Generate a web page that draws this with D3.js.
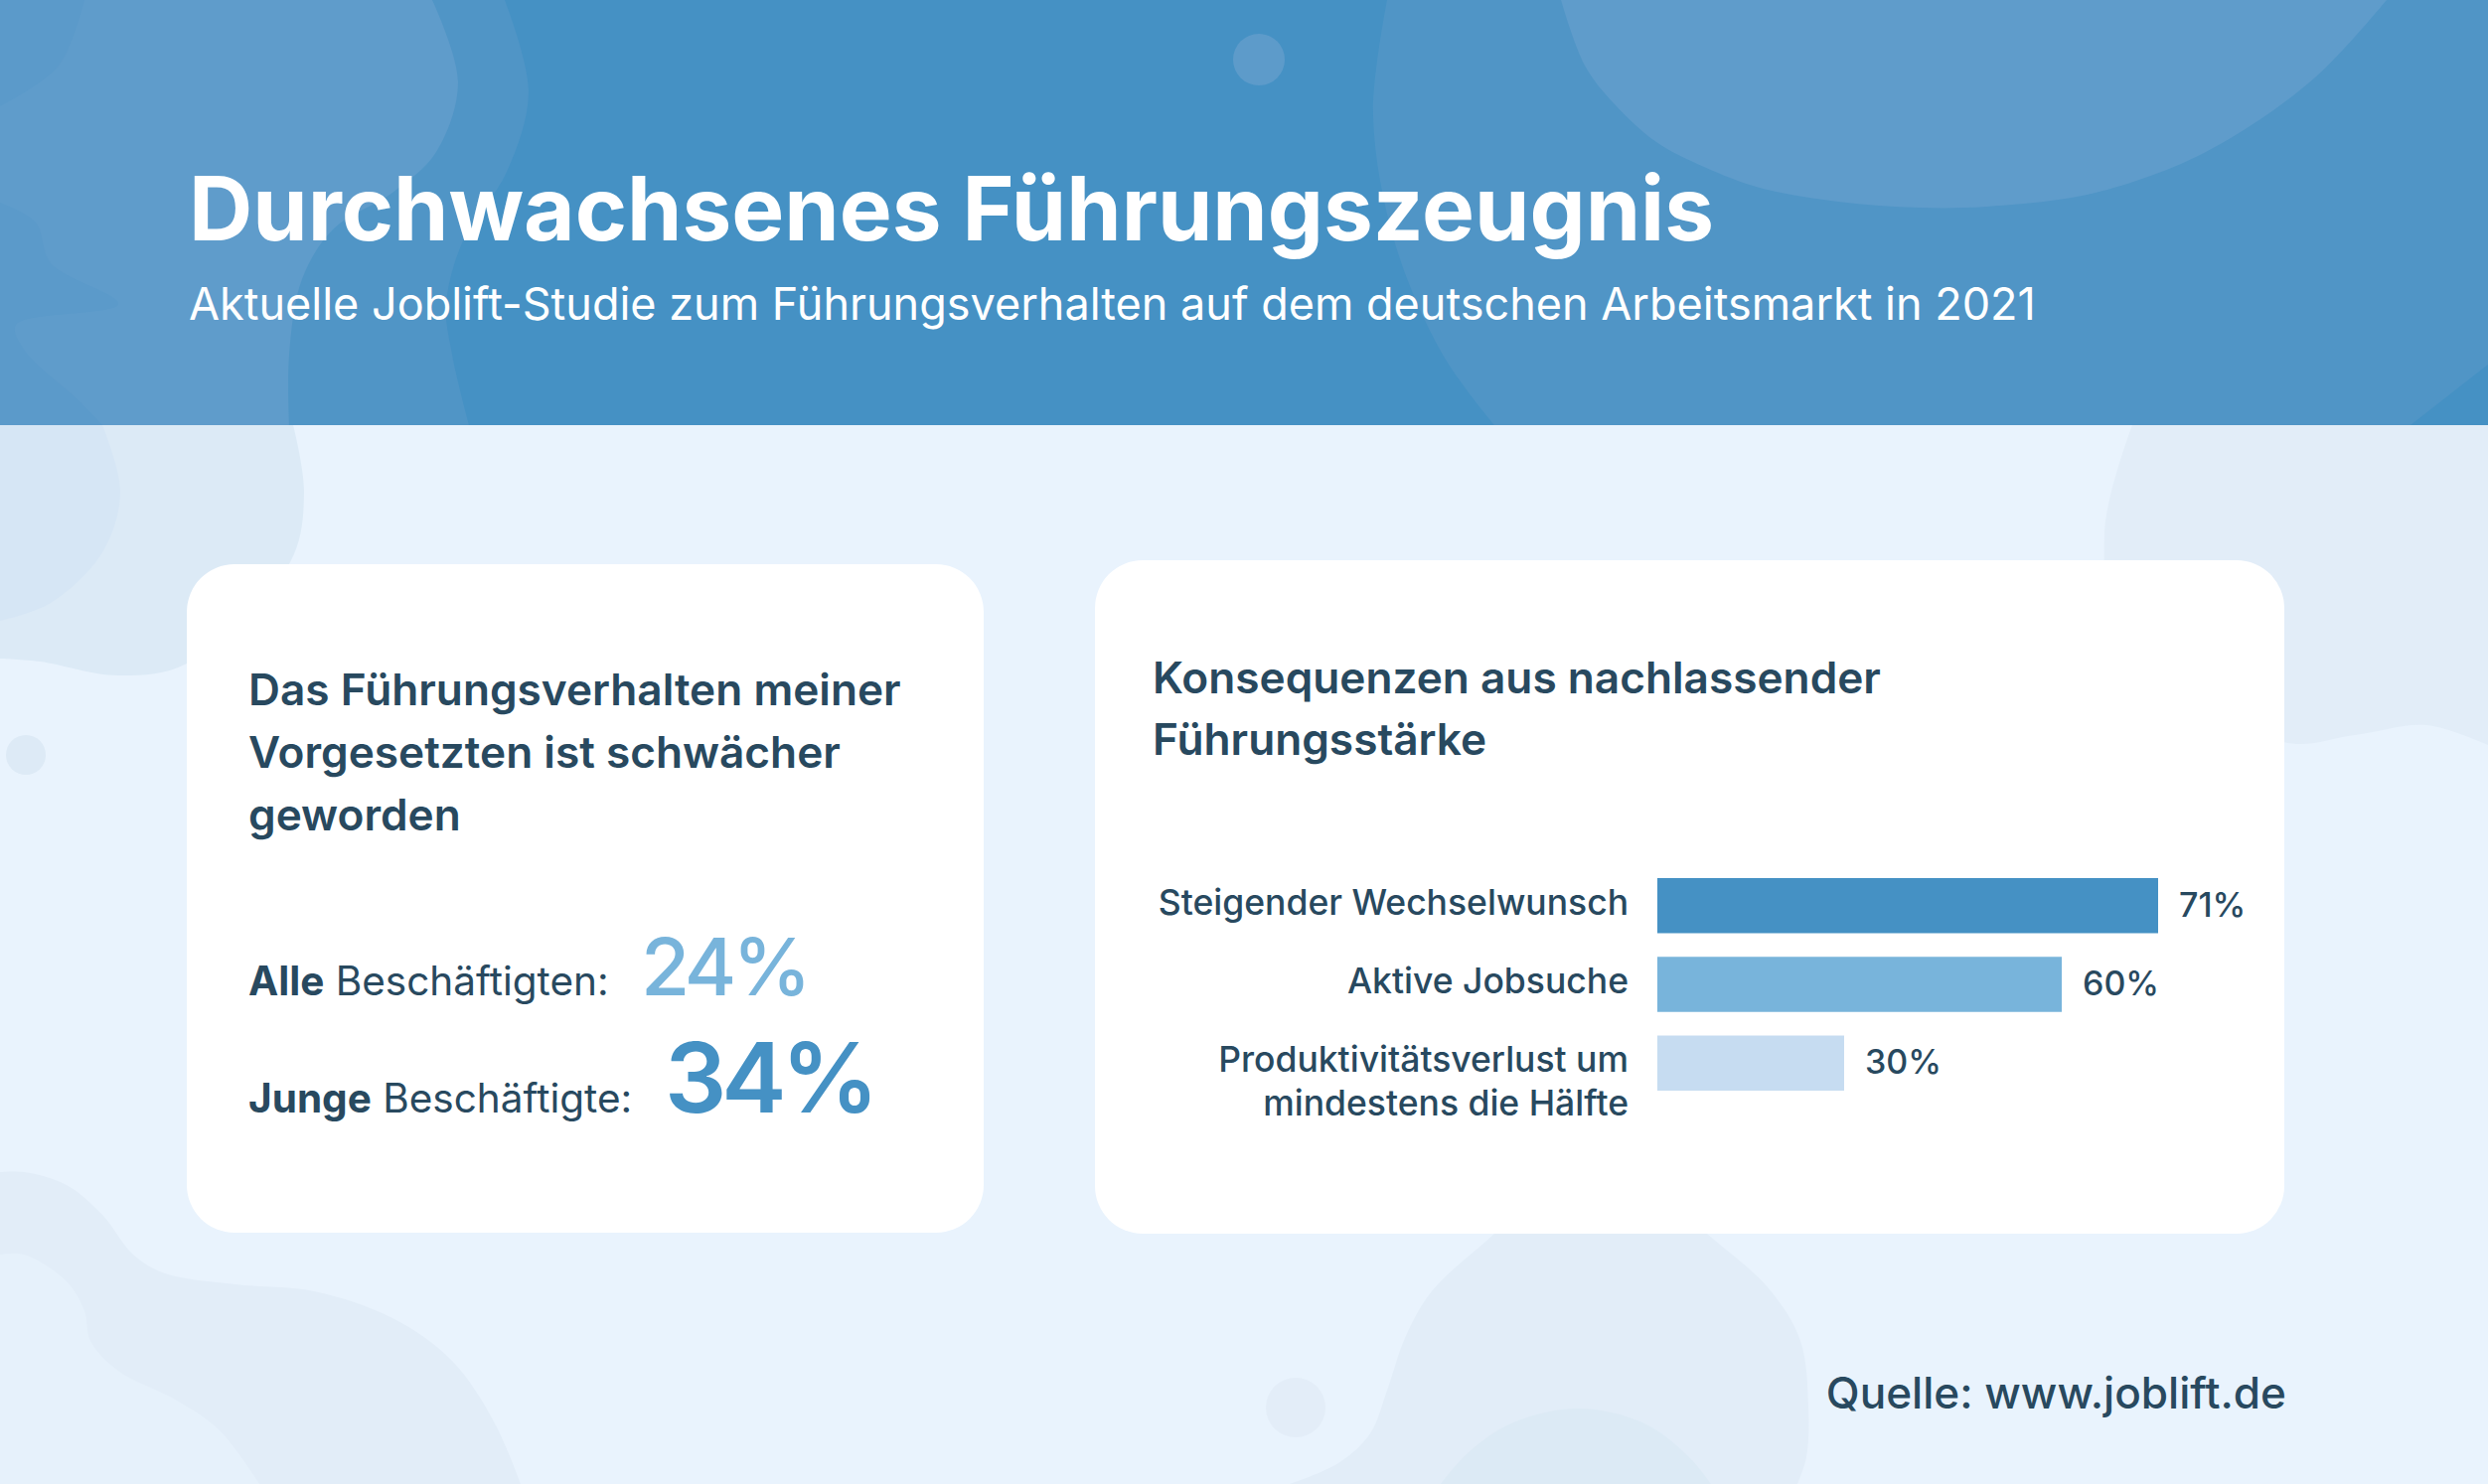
<!DOCTYPE html>
<html lang="de">
<head>
<meta charset="utf-8">
<title>Durchwachsenes Führungszeugnis</title>
<script src="https://cdn.jsdelivr.net/npm/d3@7"></script>
<style>
    html, body { margin: 0; padding: 0; background: #e9f3fd; }
    svg { display: block; }
    text { font-family: Inter, "Noto Sans", sans-serif; }
</style>
</head>
<body>
<div id="chart"></div>
<script>
// Chart data
const barCategories = ["Steigender Wechselwunsch", "Aktive Jobsuche", "Produktivitätsverlust um mindestens die Hälfte"];
const barLabelLines = [["Steigender Wechselwunsch"], ["Aktive Jobsuche"], ["Produktivitätsverlust um", "mindestens die Hälfte"]];
const barValues = [71, 60, 30];
const barColors = ["#4591c4", "#78b4db", "#c6dcf1"];

const statBold = ["Alle", "Junge"];
const statRest = [" Beschäftigten:", " Beschäftigte:"];
const statValues = [24, 34];

const width = 2504;
const height = 1494;
const headerHeight = 428;
const dark = "#28495f";

const svg = d3.select("#chart").append("svg")
    .attr("width", width)
    .attr("height", height);

svg.append("rect").attr("width", width).attr("height", height).attr("fill", "#e9f3fd");

svg.append("clipPath").attr("id", "header-clip")
    .append("rect").attr("width", width).attr("height", headerHeight);

// Background blobs, purely decorative: a smooth edge plus straight closing corners
const edge = d3.line().curve(d3.curveCatmullRom.alpha(0.5));
const blobPath = b => edge(b.edge) + b.close.map(p => `L${p[0]},${p[1]}`).join("") + "Z";

const bodyBlobs = [
    { fill: "#dceaf6", edge: [[295, 428], [306, 495], [292, 566], [188, 668], [119, 680], [40, 666], [0, 663]], close: [[0, 428]] },
    { fill: "#d6e6f5", edge: [[103, 428], [121, 495], [103, 556], [51, 607], [0, 625]], close: [[0, 428]] },
    { fill: "#e2edf8", edge: [[2146, 428], [2118, 536], [2140, 650], [2298, 747], [2370, 740], [2442, 730], [2504, 750]], close: [[2504, 428]] },
    { fill: "#e2edf8", edge: [[0, 1180], [24, 1180], [67, 1193], [103, 1223], [134, 1263], [166, 1282], [237, 1293], [316, 1300], [395, 1327], [455, 1370], [498, 1433], [524, 1494]], close: [[0, 1494]] },
    { fill: "#e6f1fb", edge: [[0, 1263], [24, 1263], [67, 1290], [85, 1320], [91, 1350], [119, 1380], [178, 1410], [221, 1440], [261, 1494]], close: [[0, 1494]] },
    { fill: "#e2edf8", edge: [[1298, 1494], [1347, 1473], [1379, 1443], [1396, 1400], [1414, 1347], [1441, 1300], [1504, 1242], [1560, 1190], [1660, 1190], [1718, 1242], [1780, 1297], [1812, 1350], [1820, 1417], [1818, 1467], [1809, 1494]], close: [] },
    { fill: "#dceaf5", edge: [[1450, 1494], [1477, 1463], [1521, 1433], [1588, 1418], [1655, 1433], [1700, 1467], [1722, 1494]], close: [] }
];
const headerBlobs = [
    { fill: "#4591c4", edge: [[0, 0], [width, 0]], close: [[width, headerHeight], [0, headerHeight]] },
    { fill: "#5095c6", edge: [[508, 0], [532, 92], [510, 173], [467, 240], [449, 306], [455, 357], [472, 428]], close: [[0, 428], [0, 0]] },
    { fill: "#5f9ccb", edge: [[435, 0], [461, 82], [439, 153], [395, 194], [336, 230], [304, 281], [291, 357], [291, 428]], close: [[0, 428], [0, 0]] },
    { fill: "#5b9aca", edge: [[85, 0], [59, 66], [0, 107]], close: [[0, 0]] },
    { fill: "#5b9aca", edge: [[0, 204], [36, 224], [51, 265], [119, 306], [16, 327], [24, 352], [79, 403], [103, 428]], close: [[0, 428]] },
    { fill: "#5095c6", edge: [[1396, 0], [1382, 117], [1404, 245], [1452, 357], [1504, 428]], close: [[2426, 428], [2504, 367], [2504, 0]] },
    { fill: "#5f9ccb", edge: [[1571, 0], [1595, 66], [1625, 105], [1667, 143], [1715, 168], [1771, 189], [1850, 203], [1931, 209], [2000, 208], [2090, 198], [2150, 182], [2210, 158], [2275, 120], [2330, 78], [2370, 37], [2402, 0]], close: [] }
];
const dots = [
    { cx: 26, cy: 760, r: 20, fill: "#ddeaf6" },
    { cx: 1304, cy: 1417, r: 30, fill: "#e3edf8" },
    { cx: 1267, cy: 60, r: 26, fill: "#5d9bca" }
];

svg.append("g").selectAll("path").data(bodyBlobs).join("path")
    .attr("d", blobPath)
    .attr("fill", d => d.fill);

svg.append("g").attr("clip-path", "url(#header-clip)")
    .selectAll("path").data(headerBlobs).join("path")
    .attr("d", blobPath)
    .attr("fill", d => d.fill);

svg.append("g").selectAll("circle").data(dots).join("circle")
    .attr("cx", d => d.cx)
    .attr("cy", d => d.cy)
    .attr("r", d => d.r)
    .attr("fill", d => d.fill);

// Header
svg.append("text").attr("x", 190).attr("y", 242)
    .attr("font-size", 89).attr("font-weight", 700).attr("fill", "#fff")
    .text("Durchwachsenes Führungszeugnis");
svg.append("text").attr("x", 190).attr("y", 322)
    .attr("font-size", 45).attr("font-weight", 400).attr("fill", "#fff")
    .text("Aktuelle Joblift-Studie zum Führungsverhalten auf dem deutschen Arbeitsmarkt in 2021");

// Cards
const cards = [
    { x: 188, y: 568, w: 802, h: 673 },
    { x: 1102, y: 564, w: 1197, h: 678 }
];
svg.append("g").selectAll("rect").data(cards).join("rect")
    .attr("x", d => d.x)
    .attr("y", d => d.y)
    .attr("width", d => d.w)
    .attr("height", d => d.h)
    .attr("rx", 48)
    .attr("fill", "#fff");

function heading(lines, x, y, step) {
    svg.append("g").selectAll("text").data(lines).join("text")
        .attr("x", x)
        .attr("y", (d, i) => y + i * step)
        .attr("font-size", 44.2)
        .attr("font-weight", 600)
        .attr("fill", dark)
        .text(d => d);
}

heading(["Das Führungsverhalten meiner", "Vorgesetzten ist schwächer", "geworden"], 250, 710, 63);
heading(["Konsequenzen aus nachlassender", "Führungsstärke"], 1160, 698, 62);

// Left card: two big numbers
const statY = d3.scaleOrdinal().domain(statBold).range([1002, 1120]);
const statX = d3.scaleOrdinal().domain(statBold).range([645, 669]);
const statColor = d3.scaleOrdinal().domain(statBold).range(["#78b4db", "#4591c4"]);
const statSize = d3.scaleOrdinal().domain(statBold).range([80, 98]);
const statTrack = d3.scaleOrdinal().domain(statBold).range([-4.2, -5.2]);

statBold.forEach((name, i) => {
    const label = svg.append("text")
        .attr("x", 250)
        .attr("y", statY(name))
        .attr("font-size", 40.5)
        .attr("font-weight", 400)
        .attr("fill", dark);
    label.append("tspan").attr("font-weight", 700).text(name);
    label.append("tspan").text(statRest[i]);

    svg.append("text")
        .attr("x", statX(name))
        .attr("y", statY(name))
        .attr("font-size", statSize(name))
        .attr("font-weight", i === 0 ? 550 : 600)
        .attr("letter-spacing", statTrack(name))
        .attr("fill", statColor(name))
        .text(statValues[i] + "%");
});

// Right card: bars. Lengths in the original artwork are not strictly proportional,
// so the scale is pinned to the drawn length at each value.
const x = d3.scaleLinear().domain([0, 30, 60, 71]).range([1668, 1856, 2075, 2172]);
const y = d3.scaleBand().domain(barCategories).range([884, 1098]).paddingInner(0.3);

const rows = svg.append("g").selectAll("g")
    .data(barCategories)
    .join("g");

rows.append("rect")
    .attr("x", x(0))
    .attr("y", d => y(d))
    .attr("width", (d, i) => x(barValues[i]) - x(0))
    .attr("height", y.bandwidth())
    .attr("fill", (d, i) => barColors[i]);

rows.append("text")
    .attr("x", (d, i) => x(barValues[i]) + 21)
    .attr("y", d => y(d) + y.bandwidth() / 2 + 11)
    .attr("font-size", 34)
    .attr("font-weight", 500)
    .attr("fill", dark)
    .text((d, i) => barValues[i] + "%");

rows.each(function (d, i) {
    d3.select(this).selectAll("text.cat")
        .data(barLabelLines[i])
        .join("text")
        .attr("class", "cat")
        .attr("x", 1639)
        .attr("y", (line, j) => y(d) + y.bandwidth() / 2 + 9 + j * 44)
        .attr("text-anchor", "end")
        .attr("font-size", 35.5)
        .attr("font-weight", 500)
        .attr("fill", dark)
        .text(line => line);
});

// Source
svg.append("text").attr("x", 2301).attr("y", 1418)
    .attr("text-anchor", "end")
    .attr("font-size", 44.1)
    .attr("font-weight", 500)
    .attr("fill", dark)
    .text("Quelle: www.joblift.de");
</script>
</body>
</html>
